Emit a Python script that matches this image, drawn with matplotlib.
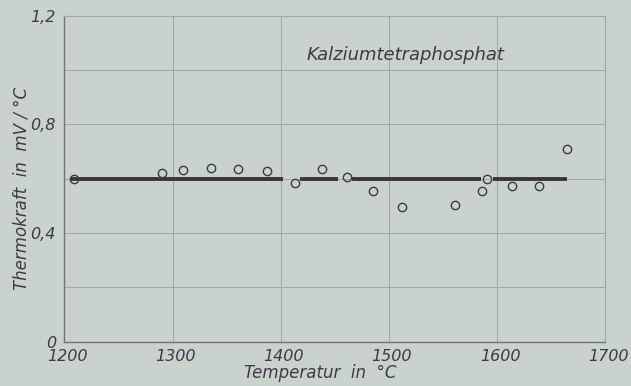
import matplotlib
matplotlib.use("Agg")
import matplotlib.pyplot as plt
from matplotlib.ticker import FuncFormatter
from matplotlib.transforms import ScaledTranslation

# ================= DATA =================
temp = [1209, 1290, 1310, 1336, 1361, 1387, 1413, 1438, 1461, 1485,
        1512, 1561, 1586, 1591, 1614, 1639, 1665]
thermo = [0.600, 0.621, 0.631, 0.640, 0.635, 0.627, 0.583, 0.636, 0.607, 0.553,
          0.497, 0.502, 0.556, 0.600, 0.574, 0.574, 0.710]

# mean value drawn as broken horizontal segments
seg_start = [1205, 1418, 1466, 1596]
seg_end = [1402, 1453, 1585, 1665]
seg_level = 0.6

x_ticks = [1200, 1300, 1400, 1500, 1600, 1700]
y_ticks = [0, 0.4, 0.8, 1.2]
y_grid = [0.2, 0.6, 1.0]
# =======================================

BG = "#c9d2cd"
GRID = "#a0a8a4"
INK = "#3f3a45"

fig = plt.figure(figsize=(6.31, 3.86), dpi=100, facecolor=BG)
ax = fig.add_axes([0.102, 0.115, 0.857, 0.844], facecolor=BG)

ax.set_xlim(1200, 1700)
ax.set_ylim(0, 1.2)
ax.set_xticks(x_ticks)
ax.set_yticks(y_ticks)
ax.set_yticks(y_grid, minor=True)
ax.yaxis.set_major_formatter(FuncFormatter(lambda v, _: f"{v:g}".replace(".", ",")))

ax.grid(True, which="both", color=GRID, lw=0.7)
ax.set_axisbelow(True)
ax.tick_params(which="both", length=0, labelsize=11.5, labelcolor=INK)
ax.tick_params(axis="x", pad=5.5)
ax.tick_params(axis="y", pad=6)

# x labels sit a little right of their grid lines
shift = ScaledTranslation(3 / 100, 0, fig.dpi_scale_trans)
for lab in ax.get_xticklabels():
    lab.set_transform(lab.get_transform() + shift)
for lab in ax.get_xticklabels() + ax.get_yticklabels():
    lab.set_fontstyle("italic")

for side in ["top", "right"]:
    ax.spines[side].set_color(GRID)
    ax.spines[side].set_linewidth(0.8)
for side in ["left", "bottom"]:
    ax.spines[side].set_color("#767179")
    ax.spines[side].set_linewidth(1.0)

# -------- mean line --------
ax.hlines([seg_level] * len(seg_start), seg_start, seg_end,
          color="#3a3538", lw=2.8, zorder=3)

# -------- measured points --------
ax.plot(temp, thermo, "o", ms=6, mfc="none", mec=INK, mew=1.0, zorder=4)

ax.text(1515, 1.055, "Kalziumtetraphosphat", ha="center", va="center",
        fontsize=13, style="italic", color=INK)

ax.set_xlabel("Temperatur  in  °C", fontsize=12, style="italic", color=INK)
ax.set_ylabel("Thermokraft  in  mV / °C", fontsize=12, style="italic", color=INK)
ax.xaxis.set_label_coords(0.473, -0.070)
ax.yaxis.set_label_coords(-0.063, 0.47)

fig.savefig("out.png", dpi=100, facecolor=BG)
